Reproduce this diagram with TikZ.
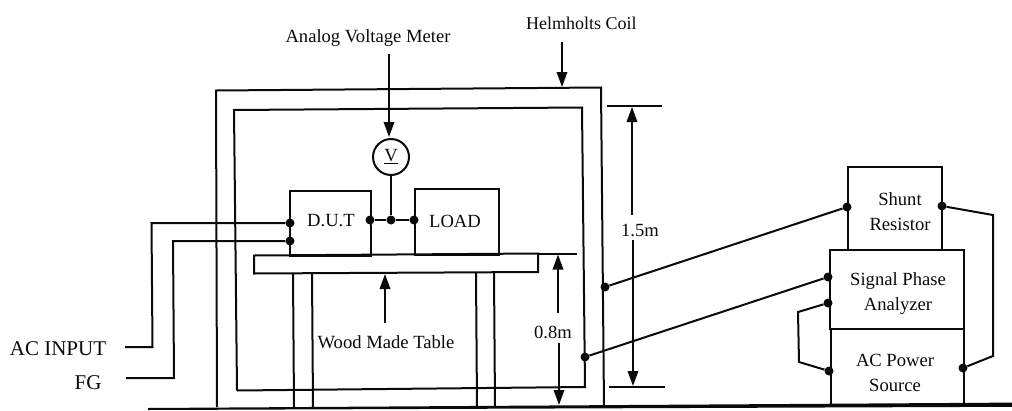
\documentclass[tikz,border=0pt]{standalone}
\usepackage{fontspec}
\setmainfont{Liberation Serif}
\usetikzlibrary{arrows.meta}
\tikzset{
  wire/.style={draw=ink,line width=2pt,line join=miter},
  arrowline/.style={draw=ink,line width=1.8pt,-{Triangle[length=15pt,width=10.5pt]}},
  plainline/.style={draw=ink,line width=1.8pt},
  dot/.style={circle,fill=ink,inner sep=0pt,minimum size=9pt},
  lab/.style={text=ink,inner sep=0pt,font=\fontsize{18.6}{25}\selectfont,align=center},
  biglab/.style={text=ink,inner sep=0pt,font=\fontsize{21}{25}\selectfont},
  box/.style={draw=ink,line width=2pt,inner sep=0pt,anchor=north west,lab}
}
\definecolor{ink}{gray}{0.04}
\begin{document}
\begin{tikzpicture}[x=1pt,y=-1pt]
\useasboundingbox (0,0) rectangle (1012,410);
% ground
\fill[ink] (148,408.0) -- (1012,402.6) -- (1012,406.8) -- (148,410) -- cycle;
% coil
\draw[wire] (217,407) -- (216,90.5) -- (601,87.5) -- (604,407);
\draw[wire] (237,390.5) -- (234,110) -- (582,107.5) -- (585,387) -- (237,390.5);
% table
\draw[wire] (254,255.5) -- (538,253.5) -- (538,272) -- (254,273.5) -- cycle;
\draw[wire] (293,273) -- (294,407) (312,273) -- (313,407) (476,273) -- (477,407) (494,273) -- (495,407);
\coordinate (tableend) at (538,253.5);
\coordinate (tableext) at (577,253.5);
\draw[wire] (tableend) -- (tableext);
% instruments
\node[box,minimum width=81pt,minimum height=65pt] (dut) at (289,190) {};
\node[lab] at (331,221) {D.U.T};
\node[box,minimum width=84pt,minimum height=66pt] (load) at (414,188) {};
\node[lab] at (455,221) {LOAD};
\node[circle,draw=ink,line width=2pt,minimum size=36pt,inner sep=0pt,lab] (volt) at (391,157) {\underline{V}};
% junctions
\node[dot] (j1) at (370,220) {};
\node[dot] (j2) at (391,220) {};
\node[dot] (j3) at (414,220) {};
\node[dot] (j4) at (290,223) {};
\node[dot] (j5) at (290,241) {};
\draw[wire] (j1) -- (j2) -- (j3);
\draw[wire] (volt) -- (j2);
% inputs
\coordinate (acin) at (125,347);
\coordinate (fgin) at (126,378);
\draw[wire] (acin) -- (152.5,347) -- (151.5,223) -- (j4);
\draw[wire] (fgin) -- (174,378) -- (173,241) -- (j5);
\node[biglab] at (58,349) {AC INPUT};
\node[biglab] at (88,383) {FG};
% right instruments
\node[box,minimum width=94pt,minimum height=83pt] (shunt) at (847,166) {};
\node[lab] at (900,212) {Shunt\\Resistor};
\node[box,minimum width=134pt,minimum height=79pt] (spa) at (829,249) {};
\node[lab] at (898,294) {Signal Phase\\Analyzer};
\node[box,minimum width=133pt,minimum height=76pt] (acp) at (830,328) {};
\node[lab] at (895,373) {AC Power\\Source};
% right junctions
\node[dot] (k1) at (605,287) {};
\node[dot] (k2) at (585,357) {};
\node[dot] (k3) at (847,207) {};
\node[dot] (k4) at (942,206) {};
\node[dot] (k5) at (828,277) {};
\node[dot] (k6) at (828,303) {};
\node[dot] (k7) at (829,371) {};
\node[dot] (k8) at (963,368) {};
\draw[wire] (k1) -- (k3);
\draw[wire] (k2) -- (k5);
\draw[wire] (k4) -- (993,215) -- (993,356) -- (k8);
\draw[wire] (k6) -- (798,312) -- (799,362) -- (k7);
% dimensions
\coordinate (t15) at (607,106);
\coordinate (t15b) at (662,106);
\coordinate (b15) at (609,387);
\coordinate (b15b) at (665,387);
\draw[plainline] (t15) -- (t15b);
\draw[plainline] (b15) -- (b15b);
\draw[arrowline] (632,215) -- (632,107);
\draw[arrowline] (633,240) -- (633,386);
\node[lab] at (640,230) {1.5m};
\draw[arrowline] (558,313) -- (558,254.5);
\draw[arrowline] (559,343) -- (559,405);
\node[lab] at (553,332) {0.8m};
% callouts
\node[lab] (avm) at (368,38) {Analog Voltage Meter};
\draw[arrowline] (389,54) -- (389,137);
\node[lab,anchor=west,font=\fontsize{18}{25}\selectfont] (coil) at (526,23) {Helmholts Coil};
\draw[arrowline] (562,42) -- (562,87);
\node[lab] (wood) at (386,342) {Wood Made Table};
\draw[arrowline] (385,323) -- (385,274);
\end{tikzpicture}
\end{document}
